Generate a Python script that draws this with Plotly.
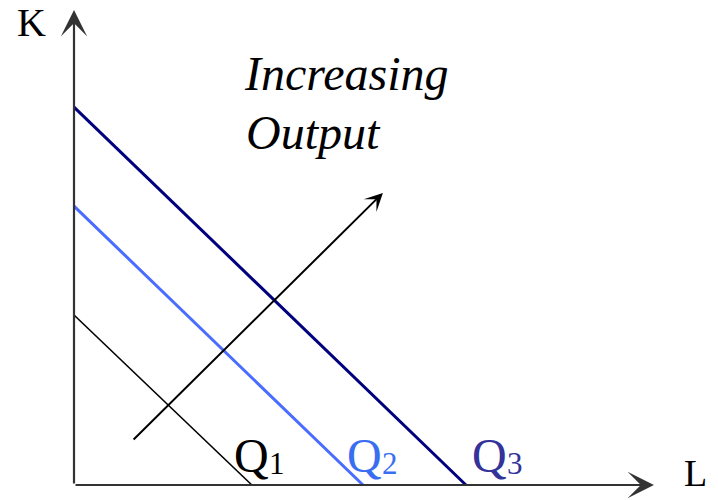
import plotly.graph_objects as go

# isoquant data (units: L horizontal, K vertical)
q_names = ["Q", "Q", "Q"]
q_subs = ["1", "2", "3"]
k_intercepts = [4.36, 7.15, 9.69]
l_intercepts = [4.56, 7.41, 10.05]
line_colors = ["#000000", "#4a6cff", "#00007f"]
label_colors = ["#000000", "#3a6ef2", "#33339a"]
line_widths = [1.6, 3, 3]
label_L = [4.05, 6.95, 10.15]

arrow_tail = (1.49, 1.13)
arrow_head = (7.92, 7.49)
y_axis_top = 12.18
x_axis_end = 14.87

SERIF = "Liberation Serif, Times New Roman, serif"

fig = go.Figure()
for k, l, c, w in zip(k_intercepts, l_intercepts, line_colors, line_widths):
    fig.add_trace(go.Scatter(x=[0, l], y=[k, 0], mode="lines",
                             line=dict(color=c, width=w), hoverinfo="skip",
                             showlegend=False))

ann = []
# axes
ann.append(dict(x=0, y=y_axis_top, ax=0, ay=0, xref="x", yref="y", axref="x", ayref="y",
                showarrow=True, arrowhead=3, arrowsize=2, arrowwidth=2.2,
                arrowcolor="#333333", text="", standoff=0))
ann.append(dict(x=x_axis_end, y=0, ax=0, ay=0, xref="x", yref="y", axref="x", ayref="y",
                showarrow=True, arrowhead=3, arrowsize=2, arrowwidth=2.2,
                arrowcolor="#333333", text="", standoff=0))
# increasing output arrow
ann.append(dict(x=arrow_head[0], y=arrow_head[1], ax=arrow_tail[0], ay=arrow_tail[1],
                xref="x", yref="y", axref="x", ayref="y",
                showarrow=True, arrowhead=3, arrowsize=1.5, arrowwidth=2,
                arrowcolor="#000000", text="", standoff=0))
# axis labels
ann.append(dict(x=-1.08, y=11.85, xref="x", yref="y", text="K", showarrow=False,
                font=dict(family=SERIF, size=40, color="#000000")))
ann.append(dict(x=15.93, y=0.3, xref="x", yref="y", text="L", showarrow=False,
                font=dict(family=SERIF, size=38, color="#000000")))
# italic text
ann.append(dict(x=4.3, y=10.55, xref="x", yref="y", text="<i>Increasing</i>", showarrow=False,
                xanchor="left", font=dict(family=SERIF, size=48, color="#000000")))
ann.append(dict(x=4.35, y=9.05, xref="x", yref="y", text="<i>Output</i>", showarrow=False,
                xanchor="left", font=dict(family=SERIF, size=48, color="#000000")))
# Q labels
for name, sub, lx, col in zip(q_names, q_subs, label_L, label_colors):
    ann.append(dict(x=lx, y=0.75, xref="x", yref="y", text=name, showarrow=False,
                    xanchor="left", font=dict(family=SERIF, size=48, color=col)))
    ann.append(dict(x=lx + 0.9, y=0.55, xref="x", yref="y", text=sub, showarrow=False,
                    xanchor="left", font=dict(family=SERIF, size=31, color=col)))

px = 39.0
fig.update_layout(
    width=718, height=500,
    margin=dict(l=0, r=0, t=0, b=0),
    paper_bgcolor="white", plot_bgcolor="white",
    xaxis=dict(range=[-74 / px, (718 - 74) / px], visible=False, fixedrange=True),
    yaxis=dict(range=[-15 / px, 485 / px], visible=False, fixedrange=True),
    annotations=ann,
    showlegend=False,
)
fig.write_html("out.html", config={"displayModeBar": False},
               post_script="document.body.style.margin='0';document.body.style.overflow='hidden';")
